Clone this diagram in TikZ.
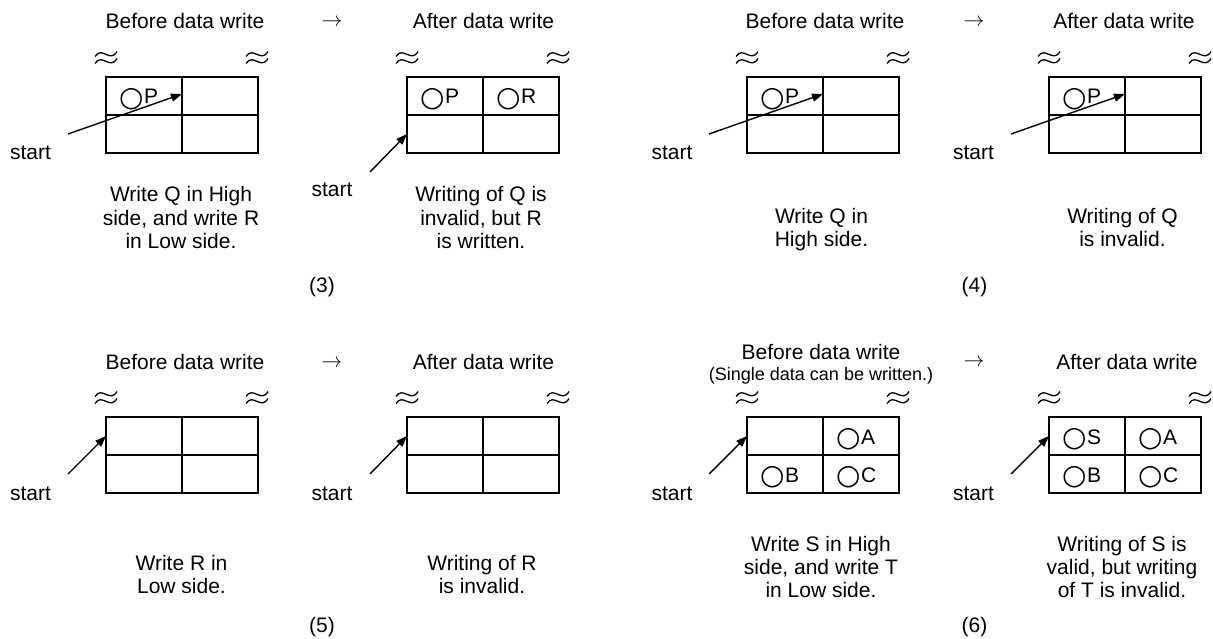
\documentclass[tikz,border=0pt]{standalone}
\usepackage{fontspec}
\setmainfont{Liberation Sans}
\newfontfamily\symfont{DejaVu Sans}
\usetikzlibrary{arrows.meta,calc}
\tikzset{
  cell/.style={draw, line width=2pt, minimum width=76pt, minimum height=38pt, inner sep=0pt, outer sep=0pt},
  lbl/.style={font=\fontsize{21}{23.3}\selectfont, inner sep=0pt, anchor=base, align=center},
  smalllbl/.style={font=\fontsize{18}{20}\selectfont, inner sep=0pt, anchor=base},
  arrlbl/.style={font=\fontsize{21}{21}\selectfont, inner sep=0pt, anchor=base},
  celltxt/.style={font=\fontsize{21}{23.3}\selectfont, inner sep=0pt, anchor=base west},
  ptr/.style={line width=1.4pt, -{Triangle[length=11pt,width=8pt]}},
  brkline/.style={line width=1.3pt},
}
\newcommand{\cir}{\raisebox{-2.5pt}{\symfont\fontsize{28}{28}\selectfont ○}\kern0.5pt}
\newcommand{\brkmark}[2]{%
  \draw[brkline] (#1-11,#2-1) .. controls (#1-4,#2-12) and (#1+4,#2+6) .. (#1+11,#2-6);
  \draw[brkline] (#1-11,#2+6) .. controls (#1-4,#2-5) and (#1+4,#2+13) .. (#1+11,#2+1);
}
\newcommand{\memgrid}[7]{%
  \node[cell, anchor=north west] (#1tl) at (#2,#3) {};
  \node[cell, anchor=north west] (#1tr) at (#2+76,#3) {};
  \node[cell, anchor=north west] (#1bl) at (#2,#3+38) {};
  \node[cell, anchor=north west] (#1br) at (#2+76,#3+38) {};
  \node[celltxt] (#1tlx) at ($(#1tl.north west)+(13,27)$) {#4};
  \node[celltxt] (#1trx) at ($(#1tr.north west)+(13,27)$) {#5};
  \node[celltxt] (#1blx) at ($(#1bl.north west)+(13,27)$) {#6};
  \node[celltxt] (#1brx) at ($(#1br.north west)+(13,27)$) {#7};
  \brkmark{#2}{#3-19.5}
  \brkmark{#2+151}{#3-19.5}
}
\begin{document}
\begin{tikzpicture}[x=1pt,y=-1pt]
\useasboundingbox (0,0) rectangle (1213,639);

% ---------- (3) ----------
\node[lbl] (t3a) at (185,29) {Before data write};
\node[arrlbl] (ar3) at (332,27) {$\rightarrow$};
\node[lbl] (t3b) at (483.5,29) {After data write};
\memgrid{p3a}{106}{77}{\cir P}{}{}{}
\memgrid{p3b}{407}{77}{\cir P}{\cir R}{}{}
\coordinate (p3as) at (68,134);
\coordinate (p3at) at ($(p3atl.north east)+(0,17)$);
\draw[ptr] (p3as) -- (p3at);
\coordinate (p3bs) at (370,172);
\coordinate (p3bt) at (p3bbl.west);
\draw[ptr] (p3bs) -- (p3bt);
\node[lbl] (st3a) at (30.5,160) {start};
\node[lbl] (st3b) at (332,197) {start};
\node[lbl] (c3a) at (181,248.6) {Write Q in High\\side, and write R\\in Low side.};
\node[lbl] (c3b) at (481,248.6) {Writing of Q is\\invalid, but R\\is written.};
\node[lbl] (n3) at (322,292) {(3)};

% ---------- (4) ----------
\node[lbl] (t4a) at (825,29) {Before data write};
\node[arrlbl] (ar4) at (974,27) {$\rightarrow$};
\node[lbl] (t4b) at (1124,29) {After data write};
\memgrid{p4a}{747}{77}{\cir P}{}{}{}
\memgrid{p4b}{1049}{77}{\cir P}{}{}{}
\coordinate (p4as) at (709,134);
\coordinate (p4at) at ($(p4atl.north east)+(0,17)$);
\draw[ptr] (p4as) -- (p4at);
\coordinate (p4bs) at (1011,134);
\coordinate (p4bt) at ($(p4btl.north east)+(0,17)$);
\draw[ptr] (p4bs) -- (p4bt);
\node[lbl] (st4a) at (672,160) {start};
\node[lbl] (st4b) at (973.5,160) {start};
\node[lbl] (c4a) at (821.5,246.5) {Write Q in\\High side.};
\node[lbl] (c4b) at (1122.5,246.5) {Writing of Q\\is invalid.};
\node[lbl] (n4) at (974.5,292) {(4)};

% ---------- (5) ----------
\node[lbl] (t5a) at (185,369) {Before data write};
\node[arrlbl] (ar5) at (332,367) {$\rightarrow$};
\node[lbl] (t5b) at (483.5,369) {After data write};
\memgrid{p5a}{106}{417}{}{}{}{}
\memgrid{p5b}{407}{417}{}{}{}{}
\coordinate (p5as) at (68,474);
\coordinate (p5at) at (p5atl.west);
\draw[ptr] (p5as) -- (p5at);
\coordinate (p5bs) at (370,474);
\coordinate (p5bt) at (p5btl.west);
\draw[ptr] (p5bs) -- (p5bt);
\node[lbl] (st5a) at (30.5,500) {start};
\node[lbl] (st5b) at (332,500) {start};
\node[lbl] (c5a) at (181.5,593.3) {Write R in\\Low side.};
\node[lbl] (c5b) at (482,593.3) {Writing of R\\is invalid.};
\node[lbl] (n5) at (322,632) {(5)};

% ---------- (6) ----------
\node[lbl] (t6a) at (821,359) {Before data write};
\node[smalllbl] (t6p) at (821,380) {(Single data can be written.)};
\node[arrlbl] (ar6) at (974,366) {$\rightarrow$};
\node[lbl] (t6b) at (1127,369) {After data write};
\memgrid{p6a}{747}{417}{}{\cir A}{\cir B}{\cir C}
\memgrid{p6b}{1049}{417}{\cir S}{\cir A}{\cir B}{\cir C}
\coordinate (p6as) at (709,474);
\coordinate (p6at) at (p6atl.west);
\draw[ptr] (p6as) -- (p6at);
\coordinate (p6bs) at (1011,474);
\coordinate (p6bt) at (p6btl.west);
\draw[ptr] (p6bs) -- (p6bt);
\node[lbl] (st6a) at (672,500) {start};
\node[lbl] (st6b) at (973.5,500) {start};
\node[lbl] (c6a) at (821,597.6) {Write S in High\\side, and write T\\in Low side.};
\node[lbl] (c6b) at (1122,597.6) {Writing of S is\\valid, but writing\\of T is invalid.};
\node[lbl] (n6) at (974.5,632) {(6)};
\end{tikzpicture}
\end{document}
